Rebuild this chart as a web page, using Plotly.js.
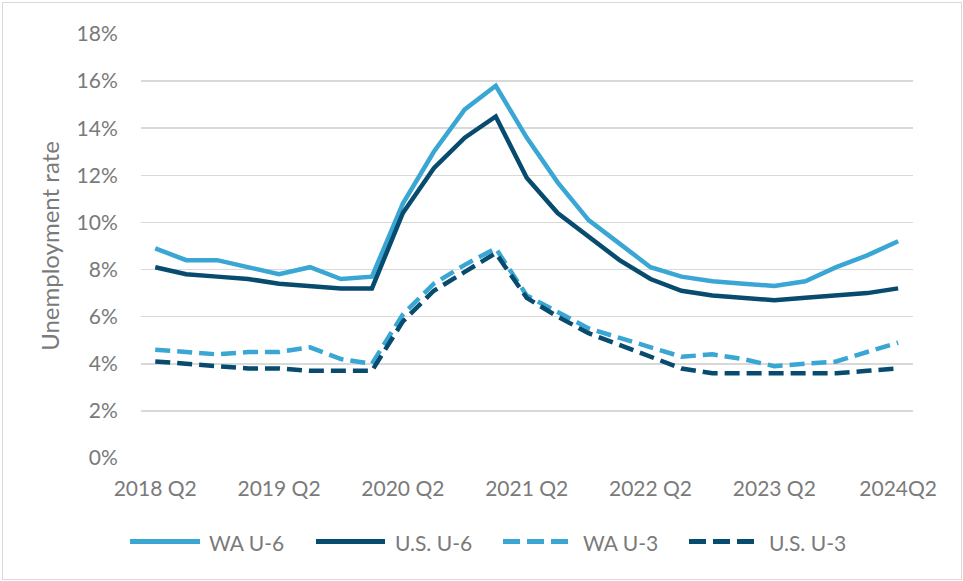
<!DOCTYPE html>
<html>
<head>
<meta charset="utf-8">
<script src="https://cdn.plot.ly/plotly-3.0.1.min.js"></script>
<style>
  html, body { margin: 0; padding: 0; background: #fff; }
  #wrap { position: relative; width: 963px; height: 581px; }
  #chart { position: absolute; left: 0; top: 0; width: 963px; height: 581px; }
  #frame { position: absolute; left: 2px; top: 2px; width: 958px; height: 576px; border: 1.5px solid #d9d9d9; pointer-events: none; }
</style>
</head>
<body>
<div id="wrap"><div id="chart"></div><div id="frame"></div></div>
<script>
const quarters = [
  "2018 Q2","2018 Q3","2018 Q4","2019 Q1","2019 Q2","2019 Q3","2019 Q4","2020 Q1",
  "2020 Q2","2020 Q3","2020 Q4","2021 Q1","2021 Q2","2021 Q3","2021 Q4","2022 Q1",
  "2022 Q2","2022 Q3","2022 Q4","2023 Q1","2023 Q2","2023 Q3","2023 Q4","2024 Q1","2024 Q2"
];
const tickQuarters = ["2018 Q2","2019 Q2","2020 Q2","2021 Q2","2022 Q2","2023 Q2","2024 Q2"];
const tickLabels = ["2018 Q2","2019 Q2","2020 Q2","2021 Q2","2022 Q2","2023 Q2","2024Q2"];
const seriesNames = ["WA U-6","U.S. U-6","WA U-3","U.S. U-3"];
const waU6 = [8.9,8.4,8.4,8.1,7.8,8.1,7.6,7.7,10.8,13.0,14.8,15.8,13.6,11.7,10.1,9.1,8.1,7.7,7.5,7.4,7.3,7.5,8.1,8.6,9.2];
const usU6 = [8.1,7.8,7.7,7.6,7.4,7.3,7.2,7.2,10.4,12.3,13.6,14.5,11.9,10.4,9.4,8.4,7.6,7.1,6.9,6.8,6.7,6.8,6.9,7.0,7.2];
const waU3 = [4.6,4.5,4.4,4.5,4.5,4.7,4.2,4.0,6.1,7.4,8.2,8.9,6.9,6.2,5.5,5.1,4.7,4.3,4.4,4.2,3.9,4.0,4.1,4.5,4.9];
const usU3 = [4.1,4.0,3.9,3.8,3.8,3.7,3.7,3.7,5.8,7.1,7.9,8.7,6.8,6.0,5.3,4.8,4.3,3.8,3.6,3.6,3.6,3.6,3.6,3.7,3.8];

const LIGHT = "#39a6d4";
const DARK = "#074b6e";
const TXT = "#7a7a7a";
const FONT = "Lato, 'Open Sans', sans-serif";

const styles = [
  {color: LIGHT, dash: "solid"},
  {color: DARK, dash: "solid"},
  {color: LIGHT, dash: "15px,7px"},
  {color: DARK, dash: "15px,7px"}
];
const values = [waU6, usU6, waU3, usU3];

const traces = values.map((v, i) => ({
  type: "scatter", mode: "lines", x: quarters, y: v, name: seriesNames[i],
  line: {color: styles[i].color, width: 4.5, dash: styles[i].dash},
  showlegend: false, hoverinfo: "x+y+name"
}));

// custom legend (pixel layout converted to paper coords)
const L = 141, R = 913, T = 34, B = 458;
const px = x => (x - L) / (R - L);
const py = y => (B - y) / (B - T);
const legendItems = [
  {x0: 130, x1: 200, tx: 207},
  {x0: 316, x1: 385, tx: 393},
  {x0: 503, x1: 568, tx: 581},
  {x0: 689, x1: 755, tx: 767}
];
const legY = 541.5;
const shapes = legendItems.map((it, i) => ({
  type: "line", xref: "paper", yref: "paper",
  x0: px(it.x0), x1: px(it.x1), y0: py(legY), y1: py(legY),
  line: {color: styles[i].color, width: 5, dash: i < 2 ? "solid" : "17px,7px"}
}));
const annotations = legendItems.map((it, i) => ({
  xref: "paper", yref: "paper", x: px(it.tx), y: py(legY + 1),
  xanchor: "left", yanchor: "middle", showarrow: false,
  text: seriesNames[i], font: {family: FONT, size: 21, color: TXT}
}));

const layout = {
  width: 963, height: 581,
  margin: {l: L, r: 963 - R, t: T, b: 581 - B},
  paper_bgcolor: "#fff", plot_bgcolor: "#fff",
  font: {family: FONT, size: 21, color: TXT},
  xaxis: {
    type: "category", range: [-0.46, 24.48],
    tickmode: "array", tickvals: tickQuarters, ticktext: tickLabels,
    ticks: "outside", ticklen: 12, tickcolor: "rgba(0,0,0,0)",
    showgrid: false, zeroline: false, showline: false,
    tickfont: {family: FONT, size: 21, color: TXT}, automargin: false, fixedrange: true
  },
  yaxis: {
    range: [0, 18], dtick: 2, tick0: 0, ticksuffix: "%",
    ticks: "outside", ticklen: 18, tickcolor: "rgba(0,0,0,0)",
    showgrid: true, gridcolor: "#d9d9d9", gridwidth: 1.5,
    zeroline: false, showline: false,
    tickfont: {family: FONT, size: 21, color: TXT},
    title: {text: "Unemployment rate", standoff: 10, font: {family: FONT, size: 24, color: TXT}},
    automargin: false, fixedrange: true
  },
  shapes: shapes,
  annotations: annotations,
  showlegend: false
};

Plotly.newPlot("chart", traces, layout, {displayModeBar: false, staticPlot: true});
</script>
</body>
</html>
